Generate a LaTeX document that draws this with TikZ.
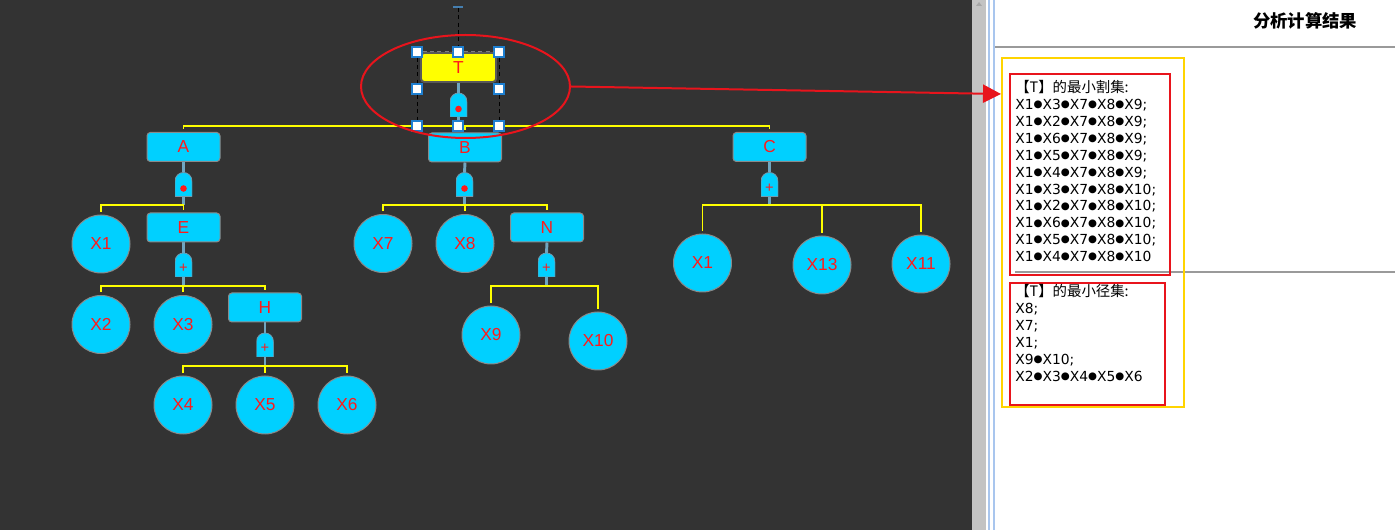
\documentclass[tikz,border=0pt]{standalone}
\usepackage{fontspec}
\setmainfont{Liberation Sans}
\newfontfamily\dejavu{DejaVu Sans}
\newfontfamily\cjk{Noto Sans CJK SC}
\usetikzlibrary{shapes.geometric,arrows.meta}
\definecolor{panel}{HTML}{333333}
\definecolor{nodecyan}{HTML}{00D0FF}
\definecolor{nodeborder}{HTML}{8A8A8A}
\definecolor{stemcol}{HTML}{6FA6C0}
\definecolor{busyellow}{HTML}{FFFF00}
\definecolor{labelred}{HTML}{FF1A1A}
\definecolor{markred}{HTML}{E8141C}
\definecolor{boxyellow}{HTML}{FFD400}
\definecolor{handleblue}{HTML}{1E7FD0}
\definecolor{sepgray}{HTML}{9A9A9A}
\definecolor{scrollgray}{HTML}{C3C3C3}
\definecolor{frameblue}{HTML}{A9C6EE}
\definecolor{topyellow}{HTML}{FFFF00}
\pgfdeclarelayer{back}
\pgfdeclarelayer{conn}
\pgfsetlayers{back,conn,main}
\newcommand\gateoutline{\filldraw[fill=nodecyan, draw=stemcol!70!gray, line width=0.6pt] (-8.5,12) -- (-8.5,-3) .. controls (-8.5,-9) and (-4,-12) .. (0,-12) .. controls (4,-12) and (8.5,-9) .. (8.5,-3) -- (8.5,12) -- cycle;}
\tikzset{
 event/.style={rectangle, rounded corners=2.5pt, draw=nodeborder, line width=0.75pt, fill=nodecyan, minimum width=54.75pt, minimum height=21.75pt, inner sep=0pt, text=labelred, font=\fontsize{13}{13}\selectfont},
 basic/.style={circle, draw=nodeborder, line width=0.75pt, fill=nodecyan, minimum size=43.5pt, inner sep=0pt, text=labelred, font=\fontsize{13}{13}\selectfont},
 gatebox/.style={rectangle, minimum width=12.75pt, minimum height=18pt, inner sep=0pt, outer sep=0pt},
 andgate/.style={gatebox, path picture={\begin{scope}[shift={(path picture bounding box.center)}]\gateoutline\fill[labelred] (0,4) circle (3.3);\end{scope}}},
 orgate/.style={gatebox, path picture={\begin{scope}[shift={(path picture bounding box.center)}]\gateoutline\node[text=labelred,font=\fontsize{11}{11}\selectfont,inner sep=0pt] at (0,3.5) {+};\end{scope}}},
 stem/.style={draw=stemcol, line width=2.2pt},
 bus/.style={draw=busyellow, line width=1.4pt},
 handle/.style={rectangle, draw=handleblue, fill=white, line width=0.8pt, minimum size=7.5pt, inner sep=0pt},
 guide/.style={draw=black, line width=0.75pt, dash pattern=on 3pt off 2.5pt},
 listtext/.style={anchor=north west, inner sep=0pt, align=left, font=\dejavu\fontsize{10.4}{12.7}\selectfont, text=black},
}
\newcommand\cjkhead[1]{{\cjk\fontsize{10.8}{12.7}\selectfont #1}}
\newcommand\bul{\raisebox{1.4pt}{\fontsize{7.7}{7.7}\selectfont ●}}
\begin{document}
\begin{tikzpicture}[x=0.75pt,y=-0.75pt]
\useasboundingbox (0,0) rectangle (1395,530);
\begin{pgfonlayer}{back}
\fill[panel] (0,0) rectangle (972,530);
\fill[white] (972,0) rectangle (1395,530);
\fill[scrollgray] (972,0) rectangle (986,530);
\fill[gray!70] (976,6) -- (979,2) -- (982,6) -- cycle;
\draw[frameblue, line width=0.8pt] (989,0) -- (989,530);
\draw[frameblue, line width=0.8pt] (994,0) -- (994,530);
\draw[sepgray, line width=1.2pt] (995,47) -- (1395,47);
\draw[sepgray, line width=1.5pt] (1015,272) -- (1395,272);
\end{pgfonlayer}

% top event
\node[rectangle, rounded corners=2.5pt, draw=gray!70!black, line width=1.4pt, fill=topyellow, minimum width=56.25pt, minimum height=21.75pt, inner sep=0pt, text=labelred, font=\fontsize{13}{13}\selectfont] (T) at (458.5,67.5) {T};
\node[andgate] (gT) at (458.5,105) {};
\coordinate (busT) at (458.5,126);

% level 1
\node[event] (A) at (183.5,147) {A};
\node[andgate] (gA) at (183.5,184.5) {};
\coordinate (busA) at (183.5,205);
\node[event] (B) at (465,147.5) {B};
\node[andgate] (gB) at (464.5,184.5) {};
\coordinate (busB) at (464.5,205);
\node[event] (C) at (769.5,147) {C};
\node[orgate] (gC) at (769.5,184.5) {};
\coordinate (busC) at (769.5,205);

% A subtree
\node[basic] (X1a) at (101,244) {X1};
\node[event] (E) at (183.5,227.5) {E};
\node[orgate] (gE) at (183.5,265) {};
\coordinate (busE) at (183.5,286);
\node[basic] (X2) at (101,324.5) {X2};
\node[basic] (X3) at (183,324.5) {X3};
\node[event] (H) at (265,307.5) {H};
\node[orgate] (gH) at (265,345) {};
\coordinate (busH) at (265,366);
\node[basic] (X4) at (183,405) {X4};
\node[basic] (X5) at (265,405) {X5};
\node[basic] (X6) at (347,405) {X6};

% B subtree
\node[basic] (X7) at (383,243.5) {X7};
\node[basic] (X8) at (465,243.5) {X8};
\node[event] (N) at (547,227.5) {N};
\node[orgate] (gN) at (546.5,265) {};
\coordinate (busN) at (546.5,286);
\node[basic] (X9) at (491,335) {X9};
\node[basic] (X10) at (598,341) {X10};

% C subtree
\node[basic] (X1c) at (702.5,263) {X1\hspace{7.5pt}};
\node[basic] (X13) at (822,265) {X13};
\node[basic] (X11) at (921,264) {X11};

\begin{pgfonlayer}{conn}
\foreach \p/\g/\b in {T/gT/busT, A/gA/busA, B/gB/busB, C/gC/busC, E/gE/busE, H/gH/busH, N/gN/busN}{
  \draw[stem] (\p.south) -- (\g.north);
  \draw[stem] (\g.south) -- (\b);
}
\foreach \b/\c in {busT/A, busT/B, busT/C, busA/X1a, busA/E, busE/X2, busE/X3, busE/H, busH/X4, busH/X5, busH/X6, busB/X7, busB/X8, busB/N, busN/X9, busN/X10, busC/X1c, busC/X13, busC/X11}{
  \draw[bus, shorten >=2pt] (\b) -| (\c.north);
}
\end{pgfonlayer}

% selection decoration
\node[handle] (h1) at (417,52) {};
\node[handle] (h2) at (458,52) {};
\node[handle] (h3) at (499,52) {};
\node[handle] (h4) at (417,89) {};
\node[handle] (h5) at (499,89) {};
\node[handle] (h6) at (417,126) {};
\node[handle] (h7) at (458,126) {};
\node[handle] (h8) at (499,126) {};
\coordinate (toptick) at (458,8);
\coordinate (tickl) at (453,7);
\coordinate (tickr) at (463,7);
\draw[handleblue!60!gray, line width=0.8pt] (tickl) -- (tickr);
\draw[guide] (toptick) -- (h2);
\draw[guide] (h1) -- (h4);
\draw[guide] (h4) -- (h6);
\draw[guide] (h3) -- (h5);
\draw[guide] (h5) -- (h8);
\draw[draw=gray, line width=0.75pt, dash pattern=on 3pt off 2.5pt] (h1) -- (h2) -- (h3);

\node[ellipse, draw=markred, line width=1.5pt, minimum width=156.75pt, minimum height=77.25pt, inner sep=0pt] (sel) at (465.5,86.5) {};

% right panel
\node[font=\cjk\bfseries\fontsize{13}{13}\selectfont, text=black, inner sep=0pt] (hdr) at (1305,21) {分析计算结果};
\node[draw=boxyellow, line width=1.5pt, minimum width=136.5pt, minimum height=261.75pt, inner sep=0pt] (ybox) at (1093,232.5) {};
\node[draw=markred, line width=1.5pt, minimum width=120pt, minimum height=150.75pt, inner sep=0pt] (rcut) at (1090,174.5) {};
\node[draw=markred, line width=1.5pt, minimum width=116.25pt, minimum height=91.5pt, inner sep=0pt] (rpath) at (1087.5,344) {};
\node[listtext] (cutsets) at (1015,80) {\cjkhead{【T】的最小割集:}\\
X1\bul X3\bul X7\bul X8\bul X9;\\
X1\bul X2\bul X7\bul X8\bul X9;\\
X1\bul X6\bul X7\bul X8\bul X9;\\
X1\bul X5\bul X7\bul X8\bul X9;\\
X1\bul X4\bul X7\bul X8\bul X9;\\
X1\bul X3\bul X7\bul X8\bul X10;\\
X1\bul X2\bul X7\bul X8\bul X10;\\
X1\bul X6\bul X7\bul X8\bul X10;\\
X1\bul X5\bul X7\bul X8\bul X10;\\
X1\bul X4\bul X7\bul X8\bul X10};
\node[listtext] (pathsets) at (1015,284) {\cjkhead{【T】的最小径集:}\\
X8;\\
X7;\\
X1;\\
X9\bul X10;\\
X2\bul X3\bul X4\bul X5\bul X6};

\coordinate (arrowtip) at (1001,94);
\draw[markred, line width=1.5pt, -{Triangle[length=13.5pt,width=13.5pt]}] (sel.east) -- (arrowtip);
\end{tikzpicture}
\end{document}
